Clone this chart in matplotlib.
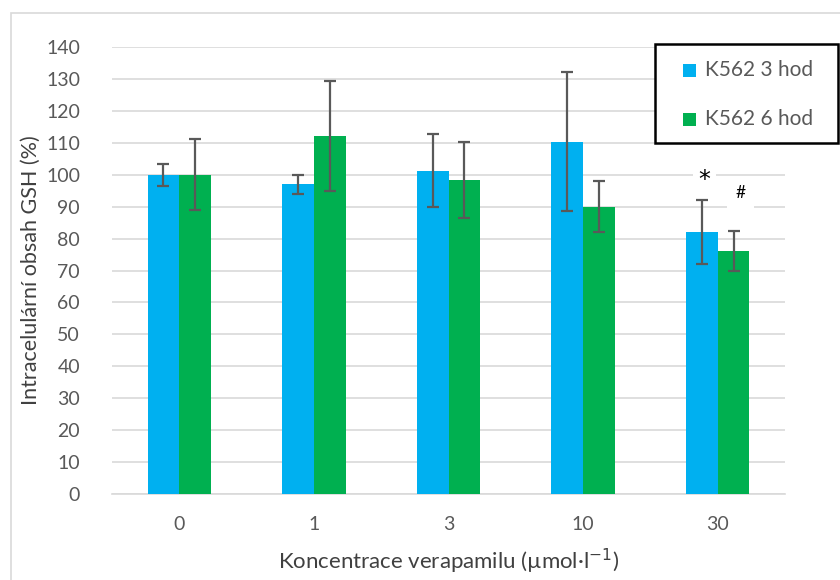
import numpy as np
import matplotlib.pyplot as plt
from matplotlib.patches import Rectangle

plt.rcParams['font.family'] = ['Lato', 'DejaVu Sans']

# koncentrace verapamilu a naměřené hodnoty GSH (%)
kategorie = ['0', '1', '3', '10', '30']
gsh_3h = [100, 97, 101.3, 110.3, 82]
sd_3h = [3.5, 3, 11.3, 21.8, 10]
gsh_6h = [100, 112, 98.3, 90, 76]
sd_6h = [11.2, 17.2, 12, 7.9, 6.3]
popisky = ['K562 3 hod', 'K562 6 hod']

barva_3h = '#00B0F0'
barva_6h = '#00B050'
seda = '#595959'

fig = plt.figure(figsize=(8.4, 5.8), dpi=100)
ax = fig.add_axes([112 / 840, 1 - 494 / 580, (785 - 112) / 840, (494 - 47) / 580])

x = np.arange(len(kategorie))
w = 0.235
err_kw = dict(ecolor=seda, elinewidth=1.6, capsize=4.5, capthick=1.6)
ax.bar(x - w / 2, gsh_3h, w, color=barva_3h, yerr=sd_3h, error_kw=err_kw, zorder=3)
ax.bar(x + w / 2, gsh_6h, w, color=barva_6h, yerr=sd_6h, error_kw=err_kw, zorder=3)

# označení statistické významnosti u 30 µmol/l
ax.text(4 - 0.1, gsh_3h[4] + sd_3h[4] + 6.5, '*', ha='center', va='center', fontsize=17,
        family='DejaVu Sans', color='black', zorder=4,
        bbox=dict(facecolor='white', edgecolor='none', pad=4))
ax.text(4 + 0.17, gsh_6h[4] + sd_6h[4] + 12, '#', ha='center', va='center', fontsize=12.5,
        color='black', zorder=4,
        bbox=dict(facecolor='white', edgecolor='none', pad=6))

ax.set_xlim(-0.5, 4.5)
ax.set_ylim(0, 140)
ax.set_yticks(np.arange(0, 141, 10))
ax.set_xticks(x)
ax.set_xticklabels(kategorie)
ax.grid(axis='y', color='#d9d9d9', linewidth=1.2, zorder=0)
ax.set_axisbelow(True)
for s in ['top', 'right', 'left']:
    ax.spines[s].set_visible(False)
ax.spines['bottom'].set_color('#d9d9d9')
ax.spines['bottom'].set_linewidth(1.2)
ax.tick_params(length=0, labelsize=14, colors=seda)
ax.tick_params(axis='x', pad=16)
ax.tick_params(axis='y', pad=23)

ax.set_ylabel('Intracelulární obsah GSH (%)', fontsize=15.5, color='#404040', labelpad=4)
ax.set_xlabel('Koncentrace verapamilu (µmol·l$^{-1}$)', fontsize=16, color='#404040', labelpad=10)

# legenda v rámečku
fig.patches.append(Rectangle((655 / 840, 1 - 143 / 580), (838 - 655) / 840, 99 / 580,
                             transform=fig.transFigure, facecolor='white',
                             edgecolor='black', linewidth=1.8, zorder=5))
for i, (lab, c) in enumerate(zip(popisky, [barva_3h, barva_6h])):
    yy = 1 - (70 + 49 * i) / 580
    fig.patches.append(Rectangle((683 / 840, yy - 6.5 / 580), 13 / 840, 13 / 580,
                                 transform=fig.transFigure, facecolor=c,
                                 edgecolor='none', zorder=6))
    fig.text(705 / 840, yy, lab, fontsize=15, color=seda, va='center', ha='left', zorder=7)

# okraj oblasti grafu
fig.patches.append(Rectangle((10.5 / 840, -0.01), 2, 1 - 13 / 580 + 0.01,
                             transform=fig.transFigure, facecolor='none',
                             edgecolor='#d9d9d9', linewidth=1.2, zorder=0))

fig.savefig('out.png', dpi=100)
